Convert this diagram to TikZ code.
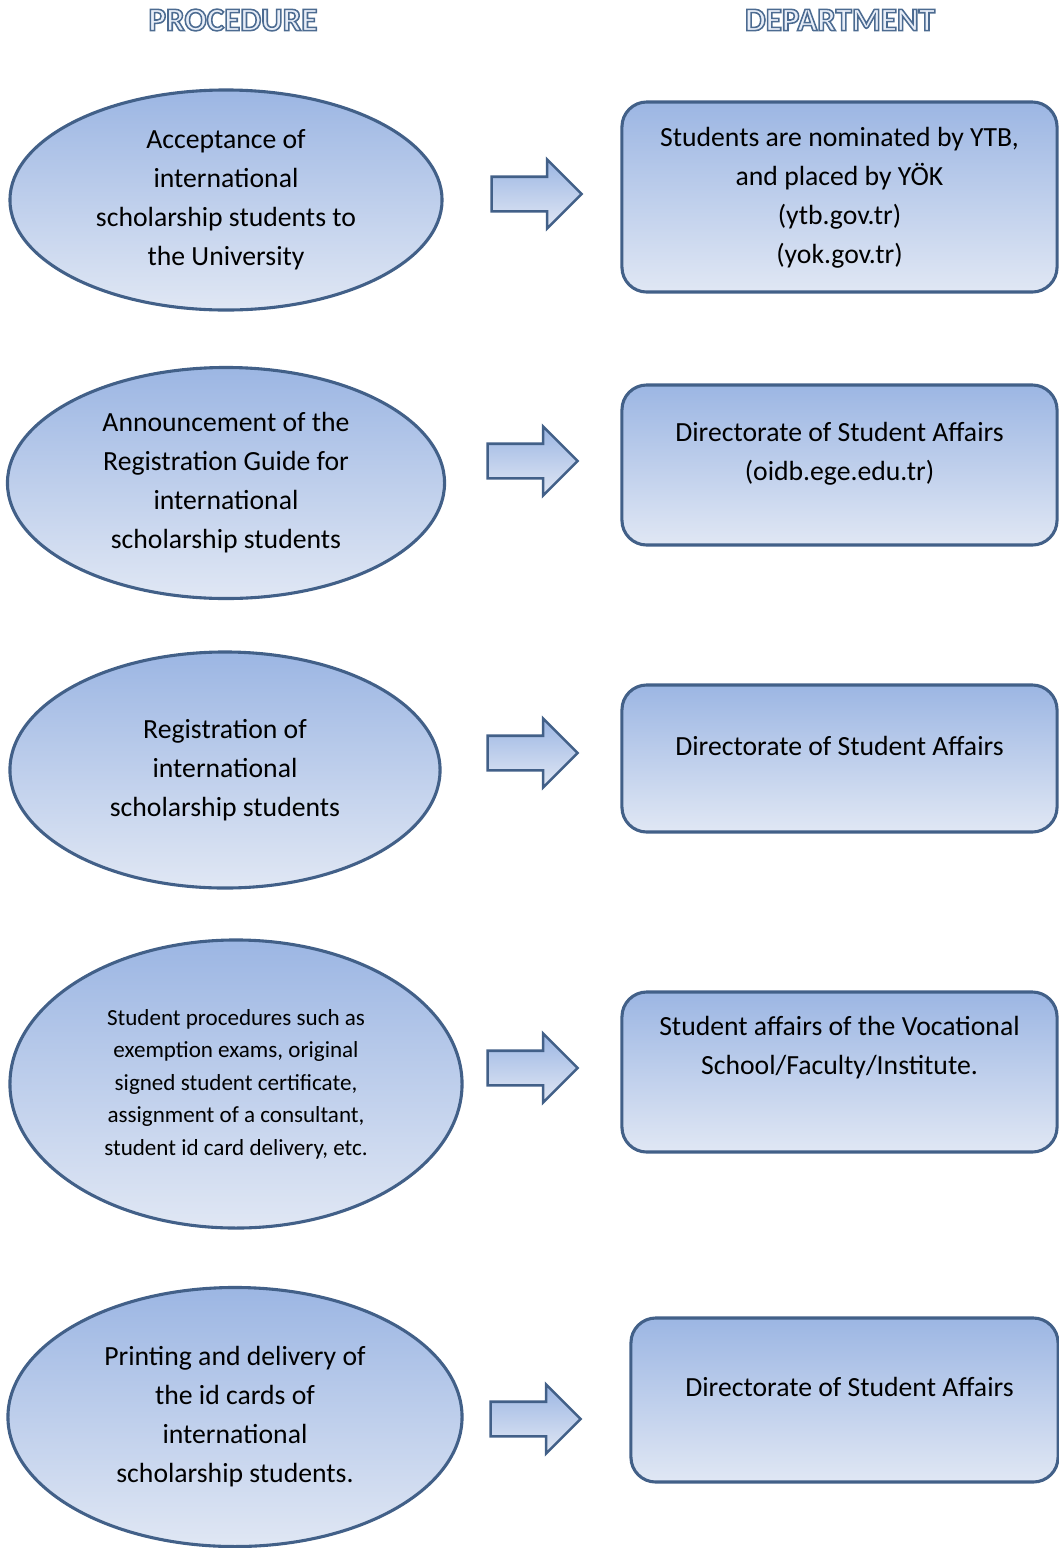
\documentclass[tikz,border=0pt]{standalone}
\usepackage{fontspec}
\setmainfont{Carlito}
\usetikzlibrary{shapes.geometric,shapes.arrows}
\definecolor{shapetop}{RGB}{156,182,227}
\definecolor{shapebot}{RGB}{224,231,244}
\definecolor{shapeline}{RGB}{66,96,136}
\definecolor{headfill}{RGB}{232,238,248}
% hollow letters for the two column titles
\newcommand\hollowtext[1]{\special{pdf:literal direct 2 Tr 1.1 w 0.3 0.42 0.57 RG}#1\special{pdf:literal direct 0 Tr}}
\tikzset{ %looks shared by the whole chart
  procedure/.style={
    ellipse, draw=shapeline, line width=2.2pt,
    top color=shapetop, bottom color=shapebot,
    inner sep=0pt, align=center,
    font=\fontsize{19.7}{27.7}\selectfont
  },
  department/.style={
    rectangle, rounded corners=0.62cm, draw=shapeline, line width=2.2pt,
    top color=shapetop, bottom color=shapebot, inner sep=0pt
  },
  deptext/.style={align=center, font=\fontsize{19.7}{27.7}\selectfont},
  blockarrow/.style={
    single arrow, draw=shapeline, line width=1.8pt,
    top color=shapetop, bottom color=shapebot,
    inner sep=0pt, text height=0.8cm, text depth=0pt,
    minimum height=2.25cm, single arrow head extend=0.43cm
  },
  header/.style={text=headfill, font=\fontsize{23.5}{28}\bfseries\selectfont}
}

\begin{document}
\begin{tikzpicture}[x=0.025cm,y=-0.025cm] % one unit = one pixel of the chart

\useasboundingbox (0,0) rectangle (1059,1548);

% procedure column
\node [procedure,minimum width=10.8cm,minimum height=5.5cm] (p1) at (226,200)
      {Acceptance of\\international\\scholarship students to\\the University};
\node [procedure,minimum width=10.925cm,minimum height=5.775cm] (p2) at (226,483)
      {Announcement of the\\Registration Guide for\\international\\scholarship students};
\node [procedure,minimum width=10.75cm,minimum height=5.9cm] (p3) at (225,770)
      {Registration of\\international\\scholarship students};
\node [procedure,minimum width=11.3cm,minimum height=7.2cm,
       font=\fontsize{16.4}{23.1}\selectfont] (p4) at (236,1084)
      {Student procedures such as\\exemption exams, original\\signed student certificate,\\assignment of a consultant,\\student id card delivery, etc.};
\node [procedure,minimum width=11.35cm,minimum height=6.475cm] (p5) at (235,1417)
      {Printing and delivery of\\the id cards of\\international\\scholarship students.};

% department column
\node [department,minimum width=10.875cm,minimum height=4.75cm] (d1) at (839.5,197) {};
\node [department,minimum width=10.875cm,minimum height=4cm] (d2) at (839.5,465) {};
\node [department,minimum width=10.875cm,minimum height=3.675cm] (d3) at (839.5,758.5) {};
\node [department,minimum width=10.875cm,minimum height=4cm] (d4) at (839.5,1072) {};
\node [department,minimum width=10.675cm,minimum height=4.1cm] (d5) at (844.5,1400) {};

\node [deptext] (d1text) at (839.5,198)
      {Students are nominated by YTB,\\and placed by YÖK\\(ytb.gov.tr)\\(yok.gov.tr)};
\node [deptext] (d2text) at (839.5,454) {Directorate of Student Affairs\\(oidb.ege.edu.tr)};
\node [deptext] (d3text) at (839.5,746) {Directorate of Student Affairs};
\node [deptext] (d4text) at (839.5,1047.5)
      {Student affairs of the Vocational\\School/Faculty/Institute.};
\node [deptext] (d5text) at (849.5,1387) {Directorate of Student Affairs};

% arrows between the columns
\node [blockarrow] (a1) at (528,194) {};
\node [blockarrow] (a2) at (524,461) {};
\node [blockarrow] (a3) at (524,753) {};
\node [blockarrow] (a4) at (524,1068) {};
\node [blockarrow] (a5) at (527,1419) {};

% column titles
\node [header] (proctitle) at (233,20) {\hollowtext{PROCEDURE}};
\node [header] (depttitle) at (840,20) {\hollowtext{DEPARTMENT}};

\end{tikzpicture}
\end{document}
